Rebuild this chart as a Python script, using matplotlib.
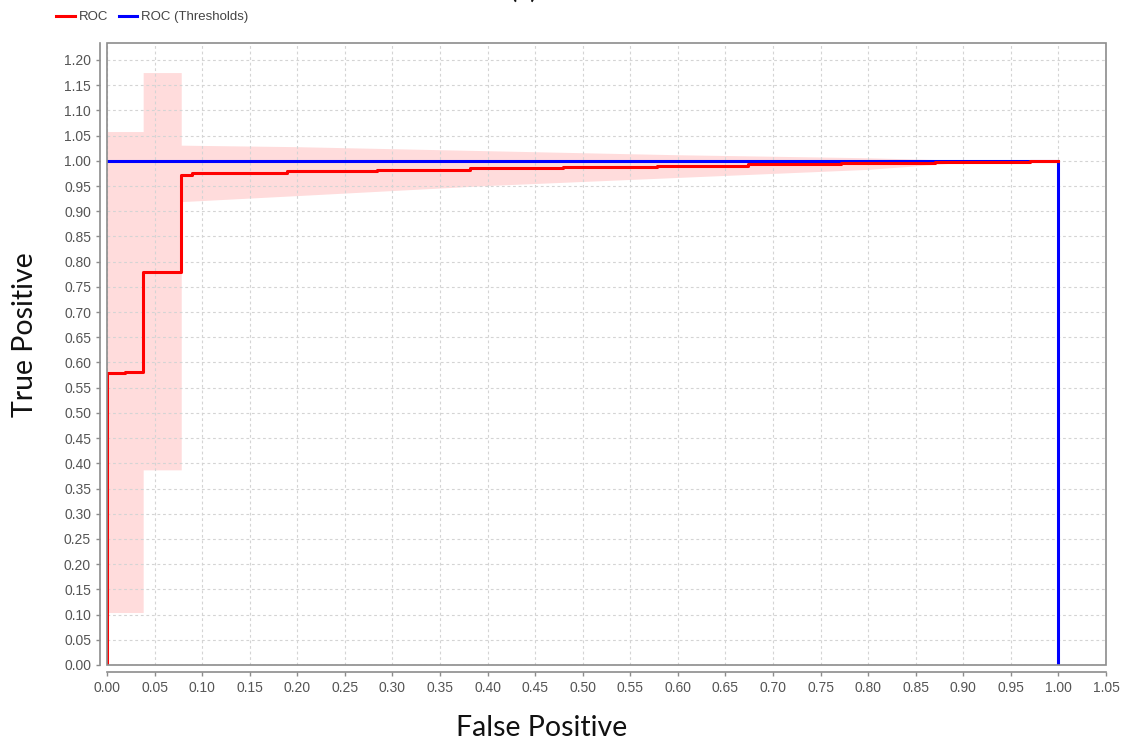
import matplotlib
matplotlib.use("Agg")
import matplotlib.pyplot as plt
from matplotlib.patches import Rectangle
import numpy as np

# ROC curve (step points, value held over the preceding interval)
roc_fp = [0.0, 0.019, 0.038, 0.078, 0.089, 0.189, 0.284, 0.381, 0.479,
          0.578, 0.674, 0.771, 0.870, 0.970, 1.0]
roc_tp = [0.0, 0.579, 0.582, 0.780, 0.972, 0.976, 0.979, 0.982, 0.985,
          0.988, 0.990, 0.993, 0.995, 0.997, 1.0]

# Confidence band around the ROC curve
band_fp = [0.0, 0.038, 0.038, 0.078, 0.078, 0.20, 0.40, 0.60, 0.80, 0.90, 1.0]
band_lo = [0.104, 0.104, 0.387, 0.387, 0.919, 0.931, 0.951, 0.967, 0.983, 0.997, 1.0]
band_hi = [1.058, 1.058, 1.175, 1.175, 1.031, 1.028, 1.020, 1.012, 1.006, 1.001, 1.0]

# ROC over thresholds
thr_fp = [0.0, 1.0, 1.0]
thr_tp = [1.0, 1.0, 0.0]

x_ticks = np.round(np.arange(0, 1.0501, 0.05), 2)
y_ticks = np.round(np.arange(0, 1.2001, 0.05), 2)

fig = plt.figure(figsize=(11.29, 7.46), dpi=100)
ax = fig.add_axes([0.0948, 0.1086, 0.8848, 0.8338])

ax.fill_between(band_fp, band_lo, band_hi, color="#ffdcdc", lw=0, zorder=1)
ax.plot(roc_fp, roc_tp, color="#ff0000", lw=2.2, drawstyle="steps-pre",
        zorder=4, label="ROC")
ax.plot(thr_fp, thr_tp, color="#0000ff", lw=2.2, zorder=3,
        label="ROC (Thresholds)")

ax.set_xlim(0, 1.05)
ax.set_ylim(0, 1.2337)
ax.set_xticks(x_ticks)
ax.set_yticks(y_ticks)
ax.set_xticklabels([f"{v:.2f}" for v in x_ticks])
ax.set_yticklabels([f"{v:.2f}" for v in y_ticks])

ax.grid(True, color="#d4d4d4", linestyle=(0, (2.5, 2.5)), lw=0.8, zorder=2)
ax.set_axisbelow(False)
for line in ax.get_xgridlines() + ax.get_ygridlines():
    line.set_zorder(2)

# Plot frame
for s in ("top", "right"):
    ax.spines[s].set_visible(False)
ax.add_patch(Rectangle((0, 0), 1, 1, transform=ax.transAxes, fill=False,
                       edgecolor="#8c8c8c", lw=1.2, zorder=6, clip_on=False))
# Offset axis lines
for s in ("left", "bottom"):
    ax.spines[s].set_position(("outward", 5))
    ax.spines[s].set_color("#8c8c8c")
    ax.spines[s].set_linewidth(1.2)

ax.tick_params(axis="both", colors="#8c8c8c", labelcolor="#555555",
               length=3, width=1, labelsize=10)
for lab in ax.get_xticklabels() + ax.get_yticklabels():
    lab.set_fontfamily("Liberation Sans")

fig.legend(loc="upper left", bbox_to_anchor=(0.0395, 1.001), ncol=2,
           frameon=False, handlelength=1.4, handletextpad=0.3,
           columnspacing=0.8, prop={"family": "Liberation Sans", "size": 9.5},
           labelcolor="#444444")

fig.text(0.480, 0.024, "False Positive", ha="center", va="center",
         fontsize=20.5, family="Lato", color="#111111")
fig.text(0.022, 0.551, "True Positive", ha="center", va="center",
         rotation=90, fontsize=20.5, family="Lato", color="#111111")
fig.text(0.464, 1.003, "(a)", ha="center", va="baseline",
         fontsize=20, family="Lato", color="#111111")

fig.savefig("out.png", dpi=100)
